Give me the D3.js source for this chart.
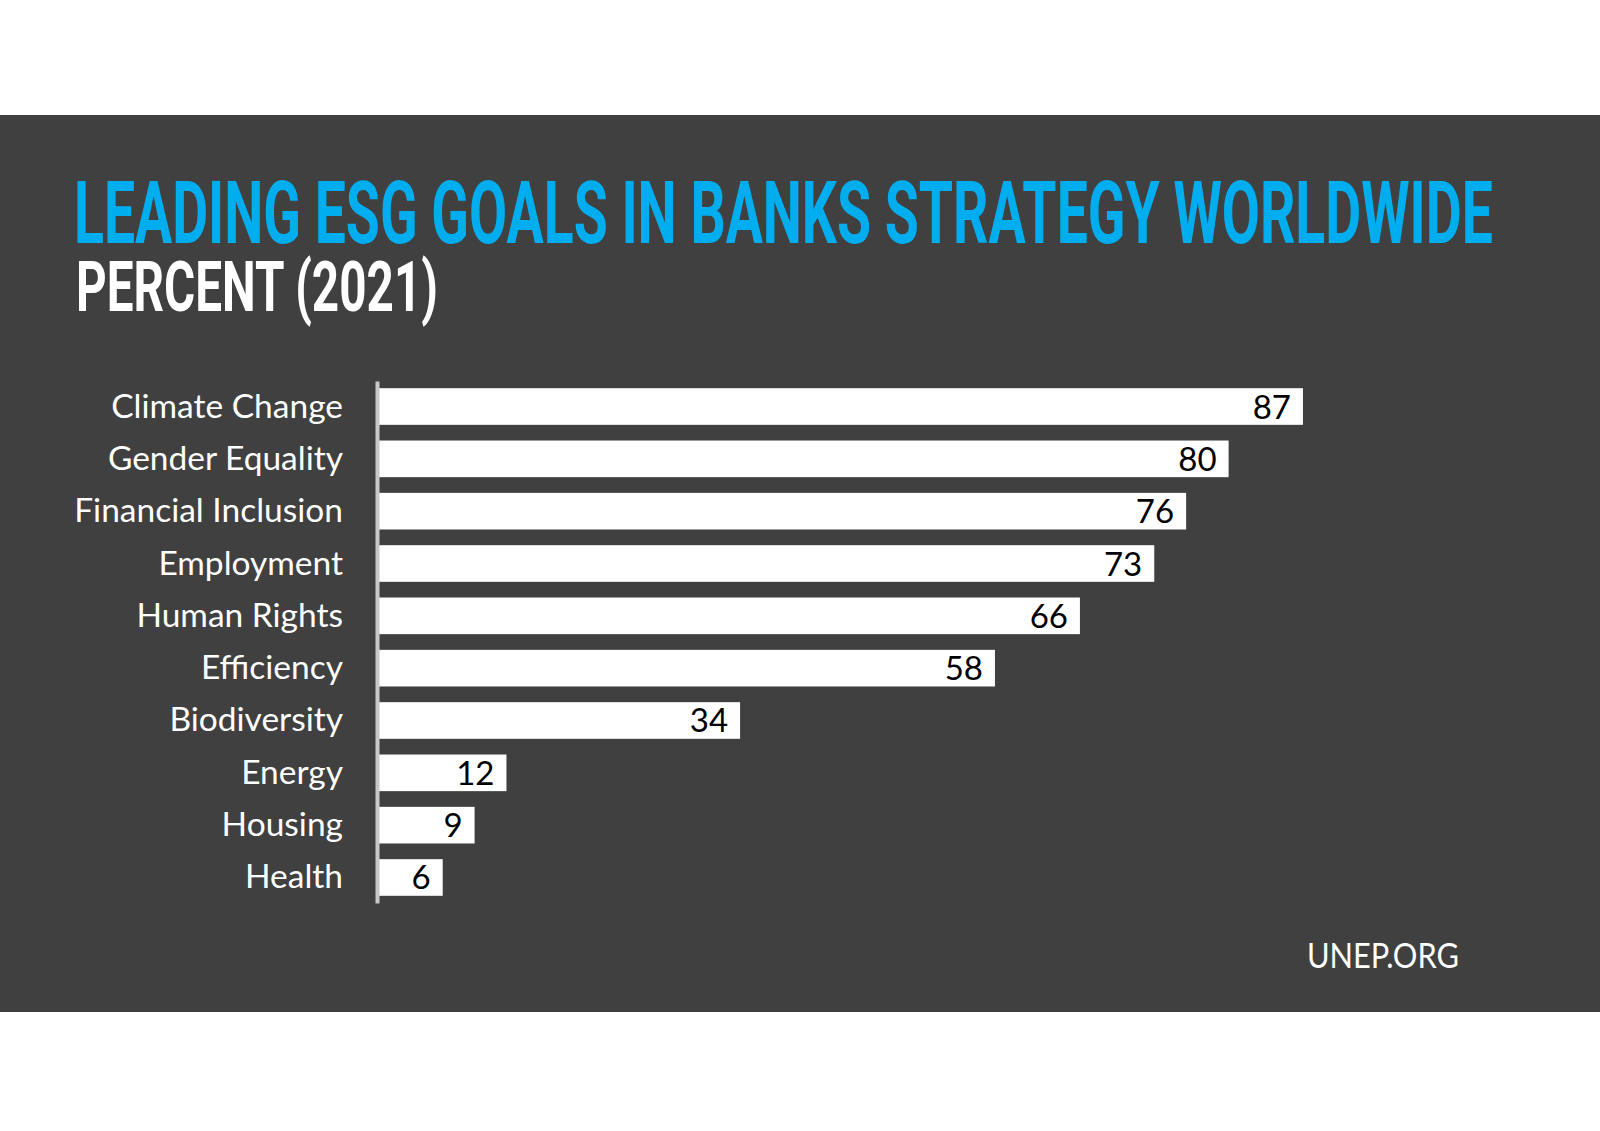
<!DOCTYPE html>
<html>
<head>
<meta charset="utf-8">
<script src="https://cdn.jsdelivr.net/npm/d3@7"></script>
<style>
  html, body { margin: 0; padding: 0; background: #ffffff; }
  svg { display: block; }
</style>
</head>
<body>
<script>
const categories = ["Climate Change", "Gender Equality", "Financial Inclusion", "Employment", "Human Rights", "Efficiency", "Biodiversity", "Energy", "Housing", "Health"];
const values = [87, 80, 76, 73, 66, 58, 34, 12, 9, 6];
const titleText = "LEADING ESG GOALS IN BANKS STRATEGY WORLDWIDE";
const subtitleText = "PERCENT (2021)";
const sourceText = "UNEP.ORG";

const W = 1600, H = 1131;
const svg = d3.select("body").append("svg").attr("width", W).attr("height", H);

// background
svg.append("rect").attr("x", 0).attr("y", 0).attr("width", W).attr("height", H).attr("fill", "#ffffff");
svg.append("rect").attr("x", 0).attr("y", 115).attr("width", W).attr("height", 897).attr("fill", "#404040");

// condensed text helper: fit natural width to a target width with a horizontal scale
function fitText(sel, x0, y0, target) {
  const len = sel.node().getComputedTextLength();
  sel.attr("transform", `translate(${x0},${y0}) scale(${target / len},1)`);
  return sel;
}

const title = svg.append("text")
  .attr("font-family", "Roboto, 'DejaVu Sans', sans-serif")
  .attr("font-weight", 700).attr("font-size", 88)
  .attr("fill", "#00aeef")
  .text(titleText);
fitText(title, 74, 243, 1419);

const subtitle = svg.append("text")
  .attr("font-family", "Roboto, 'DejaVu Sans', sans-serif")
  .attr("font-weight", 700).attr("font-size", 71)
  .attr("fill", "#ffffff")
  .text(subtitleText);
fitText(subtitle, 76, 311, 362);

// scales
const x = d3.scaleLinear().domain([0, 100]).range([379, 1441]);
const y = d3.scaleBand().domain(categories).range([381, 903]).paddingInner(0.3).paddingOuter(0.1375);

const g = svg.append("g");

g.selectAll("rect.bar")
  .data(categories)
  .join("rect")
  .attr("class", "bar")
  .attr("x", x(0))
  .attr("y", d => y(d))
  .attr("width", (d, i) => x(values[i]) - x(0))
  .attr("height", y.bandwidth())
  .attr("fill", "#ffffff");

// axis line
const yAxis = d3.axisLeft(y).tickSize(0).tickPadding(0);
const ax = svg.append("g").attr("transform", `translate(${x(0) - 2},0)`).call(yAxis);
ax.select(".domain").attr("stroke", "#c8c8c8").attr("stroke-width", 4);
ax.selectAll(".tick text")
  .attr("x", -34)
  .attr("dy", null)
  .attr("y", 11)
  .attr("font-family", "Lato, 'Open Sans', sans-serif")
  .attr("font-size", 33.5)
  .attr("fill", "#ffffff")
  .attr("text-anchor", "end");

// value labels
g.selectAll("text.val")
  .data(categories)
  .join("text")
  .attr("class", "val")
  .attr("x", (d, i) => x(values[i]) - 12)
  .attr("y", d => y(d) + y.bandwidth() / 2 + 12)
  .attr("text-anchor", "end")
  .attr("font-family", "Lato, 'Open Sans', sans-serif")
  .attr("font-size", 33)
  .attr("fill", "#000000")
  .text((d, i) => values[i]);

// source
const src = svg.append("text")
  .attr("font-family", "Lato, 'Open Sans', sans-serif")
  .attr("font-size", 34)
  .attr("fill", "#ffffff")
  .text(sourceText);
fitText(src, 1307, 968, 152);
</script>
</body>
</html>
